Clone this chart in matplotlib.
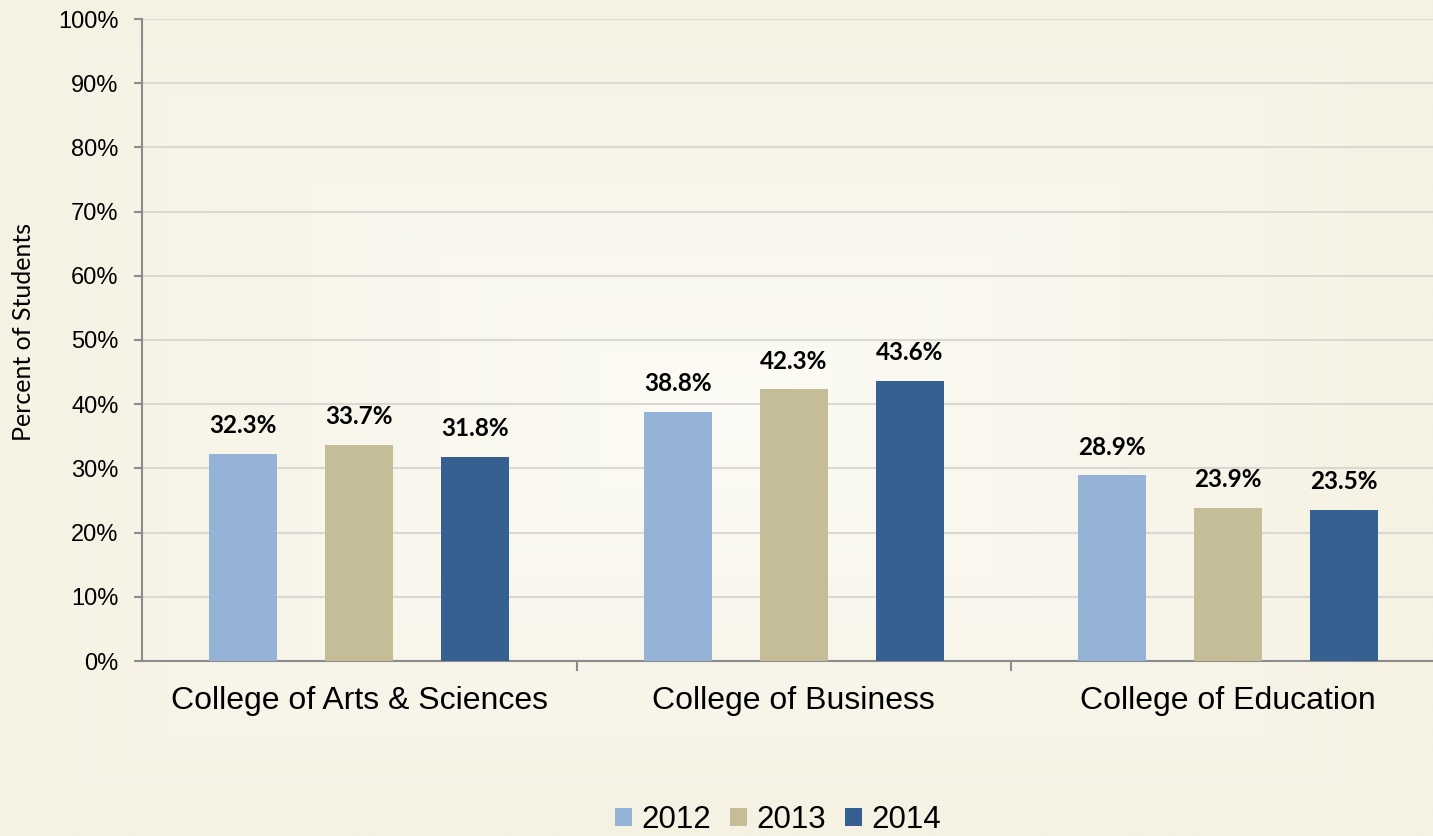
import numpy as np
import matplotlib
matplotlib.use("Agg")
import matplotlib.pyplot as plt
from matplotlib.colors import LinearSegmentedColormap

colleges = ["College of Arts & Sciences", "College of Business", "College of Education"]
years = ["2012", "2013", "2014"]
pct_2012 = [32.3, 38.8, 28.9]
pct_2013 = [33.7, 42.3, 23.9]
pct_2014 = [31.8, 43.6, 23.5]
series = [pct_2012, pct_2013, pct_2014]
colors = ["#95B3D7", "#C4BD97", "#366092"]

fig = plt.figure(figsize=(14.33, 8.36), dpi=100)
fig.patch.set_facecolor("#F5F2E4")

# soft lighter centre, like the Excel path gradient
bg = fig.add_axes([0, 0, 1, 1], zorder=-10)
gx, gy = np.meshgrid(np.linspace(-1, 1, 400), np.linspace(-1, 1, 300))
d = np.maximum(np.abs(gx), np.abs(gy))
cmap = LinearSegmentedColormap.from_list("bg", ["#FCFBF5", "#F5F2E3"])
bg.imshow(d, cmap=cmap, aspect="auto", extent=[0, 1, 0, 1], vmin=0, vmax=1)
bg.axis("off")

ax = fig.add_axes([142 / 1433, 175 / 836, 1 - 142 / 1433, (661 - 19) / 836])
ax.patch.set_alpha(0)

x = np.arange(len(colleges))
offset = 0.267
width = 0.157
for i, (vals, c, yr) in enumerate(zip(series, colors, years)):
    pos = x + (i - 1) * offset
    ax.bar(pos, vals, width, color=c, label=yr, zorder=3)
    for px, v in zip(pos, vals):
        ax.annotate(f"{v:.1f}%", (px, v), xytext=(0, 12), textcoords="offset points",
                    ha="center", va="bottom", fontsize=17.5, fontweight="bold",
                    family="Lato", color="black")

ax.set_ylim(0, 100)
ax.set_xlim(-0.5, (1433 - 142) / 434.5 - 0.5)
ax.set_yticks(range(0, 101, 10))
ax.set_yticklabels([f"{t}%" for t in range(0, 101, 10)], fontsize=17, family="Liberation Sans")
ax.yaxis.grid(True, color="#DAD8D0", lw=1.5, zorder=0)
ax.set_axisbelow(True)

ax.set_xticks([0.5, 1.5])
ax.set_xticklabels([])
ax.set_xticks(x, minor=True)
ax.set_xticklabels(colleges, minor=True, fontsize=23, family="Liberation Sans")
ax.tick_params(axis="x", which="minor", length=0, pad=18)
ax.tick_params(axis="x", which="major", length=7, width=1.5, color="#8C8C8C", direction="out")
ax.tick_params(axis="y", length=6, width=1.5, color="#8C8C8C", pad=11)

for s in ["top", "right"]:
    ax.spines[s].set_visible(False)
for s in ["left", "bottom"]:
    ax.spines[s].set_color("#8C8C8C")
    ax.spines[s].set_linewidth(1.5)

ax.set_ylabel("Percent of Students", fontsize=18, family="Lato")
ax.yaxis.set_label_coords(-0.083, 0.512)

leg = fig.legend(loc="center", bbox_to_anchor=(778 / 1433, 1 - 820 / 836), ncol=3,
                 frameon=False, prop={"family": "Liberation Sans", "size": 22.5},
                 handlelength=0.55, handleheight=0.55, handletextpad=0.3, columnspacing=0.6)

fig.savefig("out.png", dpi=100, facecolor=fig.get_facecolor())
